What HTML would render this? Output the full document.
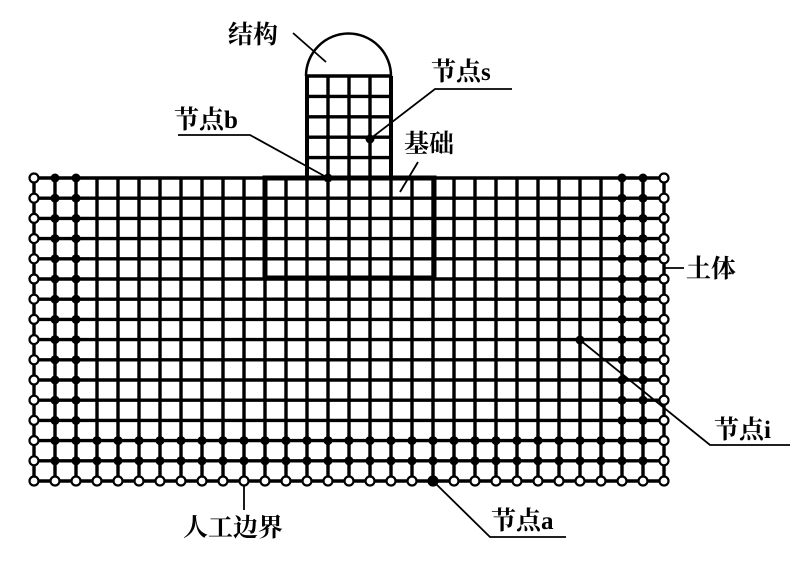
<!DOCTYPE html>
<html><head><meta charset="utf-8"><style>
html,body{margin:0;padding:0;background:#fff;}
svg{display:block}
text{font-family:"Liberation Serif","Noto Serif CJK SC",serif;font-weight:bold;font-size:25px;fill:#000}
</style></head><body>
<svg id="s" width="810" height="565" viewBox="0 0 810 565" xmlns="http://www.w3.org/2000/svg">
<g id="g" stroke="#000" fill="none"></g>
<path d="M306,76 A42.5,42.5 0 0 1 391,76" stroke="#000" stroke-width="2.5" fill="none"/>
<rect x="265" y="178" width="169" height="100" stroke="#000" stroke-width="5" fill="none"/>
<g stroke="#000" stroke-width="1.8" fill="none">
<line x1="293" y1="33" x2="326" y2="62"/>
<polyline points="512,89 435,89 370,139"/>
<polyline points="178,135 250,135 328,178"/>
<line x1="418" y1="162" x2="400" y2="192"/>
<line x1="664" y1="268" x2="684" y2="268"/>
<polyline points="580,340 710,445 790,445"/>
<polyline points="433,481 490,537 566,537"/>
<line x1="244" y1="481" x2="244" y2="510"/>
</g>
<g id="d"></g>
<text x="228" y="43">结构</text>
<text x="431" y="80">节点s</text>
<text x="174" y="128">节点b</text>
<text x="404" y="152">基础</text>
<text x="686" y="277">土体</text>
<text x="714" y="438">节点i</text>
<text x="491" y="529">节点a</text>
<text x="183" y="536">人工边界</text>
</svg>
<script>
var g=document.getElementById('g'),d=document.getElementById('d'),NS='http://www.w3.org/2000/svg';
function L(x1,y1,x2,y2,w){var l=document.createElementNS(NS,'line');l.setAttribute('x1',x1);l.setAttribute('y1',y1);l.setAttribute('x2',x2);l.setAttribute('y2',y2);l.setAttribute('stroke-width',w||3.4);g.appendChild(l);}
function C(x,y,r,f){var c=document.createElementNS(NS,'circle');c.setAttribute('cx',x);c.setAttribute('cy',y);c.setAttribute('r',r);c.setAttribute('fill',f?'#000':'#fff');c.setAttribute('stroke','#000');c.setAttribute('stroke-width',f?0:2.2);d.appendChild(c);}
var X=function(i){return 34+21*i},Y=function(j){return 178+20.2*j};
for(var i=0;i<=30;i++)L(X(i),178,X(i),481);
for(var j=0;j<=15;j++)L(34,Y(j),664,Y(j));
var sy=[76,96.4,116.8,137.2,157.6,178];
for(var k=0;k<5;k++)L(307+21*k,76,307+21*k,178,k==0||k==4?4:3.4);
for(var k=0;k<6;k++)L(307,sy[k],391,sy[k],3.4);
for(var i=0;i<=30;i++)for(var j=0;j<=15;j++){
 var x=X(i),y=Y(j);
 if(i==0||i==30||j==15)C(x,y,4.5,false);
 else if(i==1||i==2||i==28||i==29||j==13||j==14)C(x,y,4.5,true);
}
C(433,481,5,true);C(580,340,4.5,true);C(328,178,4.5,true);C(370,139,4.5,true);
</script>
</body></html>
